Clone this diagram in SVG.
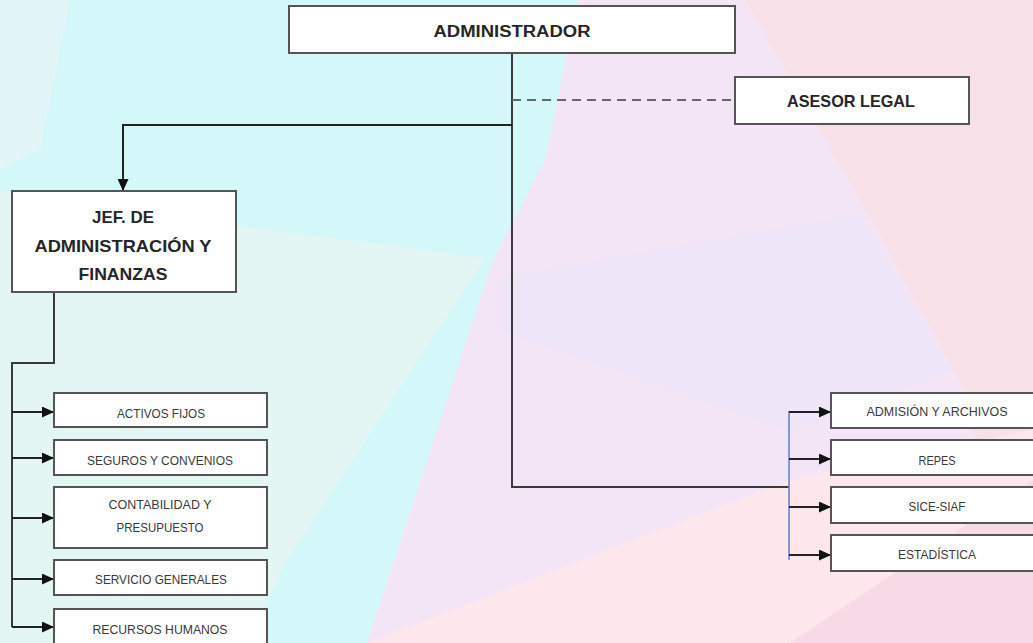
<svg xmlns="http://www.w3.org/2000/svg" width="1033" height="643" viewBox="0 0 1033 643">
<style>
.box{fill:#ffffff;stroke:#555555;stroke-width:2}
.t{font-family:"Liberation Sans",Arial,sans-serif;font-weight:bold;fill:#262626;text-anchor:middle}
.s{font-family:"Liberation Sans",Arial,sans-serif;fill:#3a3a3a;text-anchor:middle;font-size:13px}
.ln{fill:none;stroke:#3a3a3a;stroke-width:2}
.arr{fill:none;stroke:#222222;stroke-width:2;marker-end:url(#ah)}
</style>
<defs>
<marker id="ah" markerUnits="userSpaceOnUse" markerWidth="12" markerHeight="11" refX="12" refY="5.5" orient="auto">
<path d="M0,0 L12,5.5 L0,11 z" fill="#111111"/>
</marker>
</defs>
<g id="background">
<rect x="0" y="0" width="1033" height="643" fill="#d4f7fa"/>
<polygon points="0,0 70,0 40,150 0,170" fill="#e2f6f8"/>
<polygon points="0,190 230,225 485,258 283,567 250,643 0,643" fill="#e4f6f4"/>
<polygon points="578,0 1033,0 1033,643 367,643 493,260 545,160" fill="#f4e5f6"/>
<polygon points="745,0 1033,0 1033,643 990,643 970,400 860,200" fill="#f8e0e9"/>
<polygon points="500,278 860,215 950,370 790,430 500,330" fill="#eee5f8"/>
<polygon points="367,643 790,480 1033,430 1033,643" fill="#fde7ec"/>
<polygon points="790,643 1033,480 1033,643" fill="#f8dae7"/>
</g>
<g id="connectors">
<polyline class="ln" points="512,53 512,487 789,487"/>
<line x1="512" y1="100" x2="735" y2="100" stroke="#666666" stroke-width="2" stroke-dasharray="9 6"/>
<polyline class="arr" points="512,125 123,125 123,191"/>
<polyline class="ln" points="54,292 54,363 12,363 12,627"/>
<line class="arr" x1="12" y1="412" x2="54" y2="412"/>
<line class="arr" x1="12" y1="458" x2="54" y2="458"/>
<line class="arr" x1="12" y1="518" x2="54" y2="518"/>
<line class="arr" x1="12" y1="579" x2="54" y2="579"/>
<line class="arr" x1="12" y1="627" x2="54" y2="627"/>
<line x1="789" y1="411" x2="789" y2="560" stroke="#5b7fc9" stroke-width="1.5"/>
<line class="arr" x1="789" y1="412" x2="831" y2="412"/>
<line class="arr" x1="789" y1="459" x2="831" y2="459"/>
<line class="arr" x1="789" y1="507" x2="831" y2="507"/>
<line class="arr" x1="789" y1="555" x2="831" y2="555"/>
</g>
<g id="n-administrador">
<rect class="box" x="289" y="6" width="446" height="47"/>
<text class="t" x="512" y="37" font-size="16" textLength="157" lengthAdjust="spacingAndGlyphs">ADMINISTRADOR</text>
</g>
<g id="n-asesor">
<rect class="box" x="735" y="77" width="234" height="47"/>
<text class="t" x="851" y="107" font-size="17" textLength="128" lengthAdjust="spacingAndGlyphs">ASESOR LEGAL</text>
</g>
<g id="n-jef">
<rect class="box" x="12" y="191" width="224" height="101"/>
<text class="t" x="123" y="223" font-size="17" textLength="62" lengthAdjust="spacingAndGlyphs">JEF. DE</text>
<text class="t" x="123" y="252" font-size="17" textLength="177" lengthAdjust="spacingAndGlyphs">ADMINISTRACIÓN Y</text>
<text class="t" x="123" y="280" font-size="17" textLength="89" lengthAdjust="spacingAndGlyphs">FINANZAS</text>
</g>
<g id="n-activos">
<rect class="box" x="54" y="393" width="213" height="34"/>
<text class="s" x="161" y="418" textLength="88" lengthAdjust="spacingAndGlyphs">ACTIVOS FIJOS</text>
</g>
<g id="n-seguros">
<rect class="box" x="54" y="440" width="213" height="35"/>
<text class="s" x="160" y="465" textLength="146" lengthAdjust="spacingAndGlyphs">SEGUROS Y CONVENIOS</text>
</g>
<g id="n-contabilidad">
<rect class="box" x="54" y="487" width="213" height="61"/>
<text class="s" x="160" y="509" textLength="103" lengthAdjust="spacingAndGlyphs">CONTABILIDAD Y</text>
<text class="s" x="160" y="532" textLength="87" lengthAdjust="spacingAndGlyphs">PRESUPUESTO</text>
</g>
<g id="n-servicio">
<rect class="box" x="54" y="560" width="213" height="35"/>
<text class="s" x="161" y="584" textLength="132" lengthAdjust="spacingAndGlyphs">SERVICIO GENERALES</text>
</g>
<g id="n-recursos">
<rect class="box" x="54" y="609" width="213" height="36"/>
<text class="s" x="160" y="634" textLength="135" lengthAdjust="spacingAndGlyphs">RECURSOS HUMANOS</text>
</g>
<g id="n-admision">
<rect class="box" x="831" y="393" width="215" height="35"/>
<text class="s" x="937" y="416" textLength="141" lengthAdjust="spacingAndGlyphs">ADMISIÓN Y ARCHIVOS</text>
</g>
<g id="n-repes">
<rect class="box" x="831" y="440" width="215" height="35"/>
<text class="s" x="937" y="465" textLength="37" lengthAdjust="spacingAndGlyphs">REPES</text>
</g>
<g id="n-sice">
<rect class="box" x="831" y="487" width="215" height="36"/>
<text class="s" x="937" y="511" textLength="57" lengthAdjust="spacingAndGlyphs">SICE-SIAF</text>
</g>
<g id="n-estadistica">
<rect class="box" x="831" y="535" width="215" height="36"/>
<text class="s" x="937" y="559" textLength="78" lengthAdjust="spacingAndGlyphs">ESTADÍSTICA</text>
</g>
</svg>
